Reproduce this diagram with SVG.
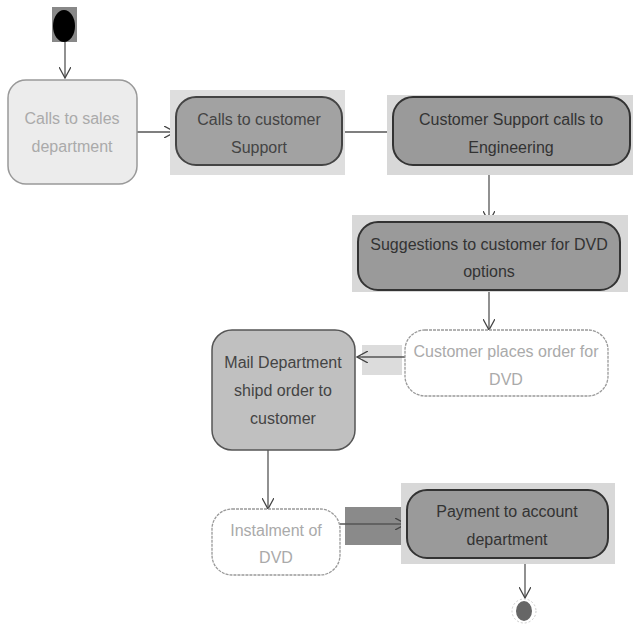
<svg xmlns="http://www.w3.org/2000/svg" width="640" height="640" viewBox="0 0 640 640">
<defs>
<style>
text{font-family:"Liberation Sans","DejaVu Sans",sans-serif;font-size:16px;text-anchor:middle}
.dk{fill:#333}
.lt{fill:#aaa}
.md{fill:#444}
.conn{stroke:#555;stroke-width:1.3;fill:none}
</style>
<marker id="oa" viewBox="0 0 12 12" refX="11" refY="6" markerWidth="12" markerHeight="12" markerUnits="userSpaceOnUse" orient="auto">
<path d="M0,0 L11,6 L0,12" fill="none" stroke="#444" stroke-width="1.3"/>
</marker>
</defs>
<rect width="640" height="640" fill="#fff"/>
<g id="connectors">
<rect x="345" y="507" width="60" height="38" fill="#8a8a8a"/>
<rect x="362" y="345" width="40" height="30" fill="#dcdcdc"/>
<rect x="477" y="165" width="26" height="14" fill="#fff"/>
<path class="conn" d="M65,42 V78" marker-end="url(#oa)"/>
<path class="conn" d="M137,132 H175" marker-end="url(#oa)"/>
<path class="conn" d="M342,132 H392"/>
<path class="conn" d="M489,165 V222" marker-end="url(#oa)"/>
<path class="conn" d="M489,290 V330" marker-end="url(#oa)"/>
<path class="conn" d="M405,357 H357" marker-end="url(#oa)" stroke-width="2"/>
<path class="conn" d="M268,450 V509" marker-end="url(#oa)"/>
<path class="conn" d="M340,524 H406" marker-end="url(#oa)" stroke="#222" stroke-width="3.5"/>
<path class="conn" d="M525,558 V598" marker-end="url(#oa)"/>
</g>
<g id="start">
<rect x="52" y="7" width="25" height="35" fill="#888"/>
<ellipse cx="64" cy="26" rx="11" ry="16" fill="#000"/>
</g>
<g id="n1">
<rect x="8" y="80" width="129" height="104" rx="18" fill="#ececec" stroke="#999" stroke-width="1.5"/>
<text class="lt" x="72" y="124">Calls to sales</text>
<text class="lt" x="72" y="152">department</text>
</g>
<g id="n2">
<rect x="170" y="90" width="175" height="85" fill="#dedede"/>
<rect x="176" y="97" width="166" height="68" rx="20" fill="#a2a2a2" stroke="#444" stroke-width="2"/>
<text class="md" x="259" y="125">Calls to customer</text>
<text class="md" x="259" y="153">Support</text>
</g>
<g id="n3">
<rect x="387" y="95" width="246" height="80" fill="#d8d8d8"/>
<rect x="393" y="97" width="237" height="68" rx="20" fill="#9a9a9a" stroke="#333" stroke-width="2"/>
<text class="dk" x="511" y="125">Customer Support calls to</text>
<text class="dk" x="511" y="153">Engineering</text>
</g>
<g id="n4">
<rect x="352" y="215" width="276" height="77" fill="#d8d8d8"/>
<rect x="358" y="222" width="262" height="68" rx="20" fill="#9a9a9a" stroke="#333" stroke-width="2"/>
<text class="dk" x="489" y="250">Suggestions to customer for DVD</text>
<text class="dk" x="489" y="277">options</text>
</g>
<g id="n5">
<rect x="405" y="330" width="203" height="66" rx="20" fill="#fff" stroke="#999" stroke-width="1.3" stroke-dasharray="3,1"/>
<text class="lt" x="506" y="357">Customer places order for</text>
<text class="lt" x="506" y="385">DVD</text>
</g>
<g id="n6">
<rect x="212" y="330" width="143" height="120" rx="20" fill="#c0c0c0" stroke="#555" stroke-width="1.5"/>
<text class="md" x="283" y="368">Mail Department</text>
<text class="md" x="283" y="396">shipd order to</text>
<text class="md" x="283" y="424">customer</text>
</g>
<g id="n7">
<rect x="212" y="509" width="128" height="66" rx="20" fill="#fff" stroke="#999" stroke-width="1.3" stroke-dasharray="3,1"/>
<text class="lt" x="276" y="536">Instalment of</text>
<text class="lt" x="276" y="563">DVD</text>
</g>
<g id="n8">
<rect x="401" y="483" width="214" height="81" fill="#d8d8d8"/>
<rect x="407" y="490" width="201" height="68" rx="20" fill="#9a9a9a" stroke="#333" stroke-width="2"/>
<text class="dk" x="507" y="517">Payment to account</text>
<text class="dk" x="507" y="545">department</text>
</g>
<g id="end">
<circle cx="524" cy="611" r="12" fill="none" stroke="#ccc" stroke-width="1" stroke-dasharray="2,2"/>
<ellipse cx="524" cy="611" rx="8" ry="10" fill="#666"/>
</g>
</svg>
